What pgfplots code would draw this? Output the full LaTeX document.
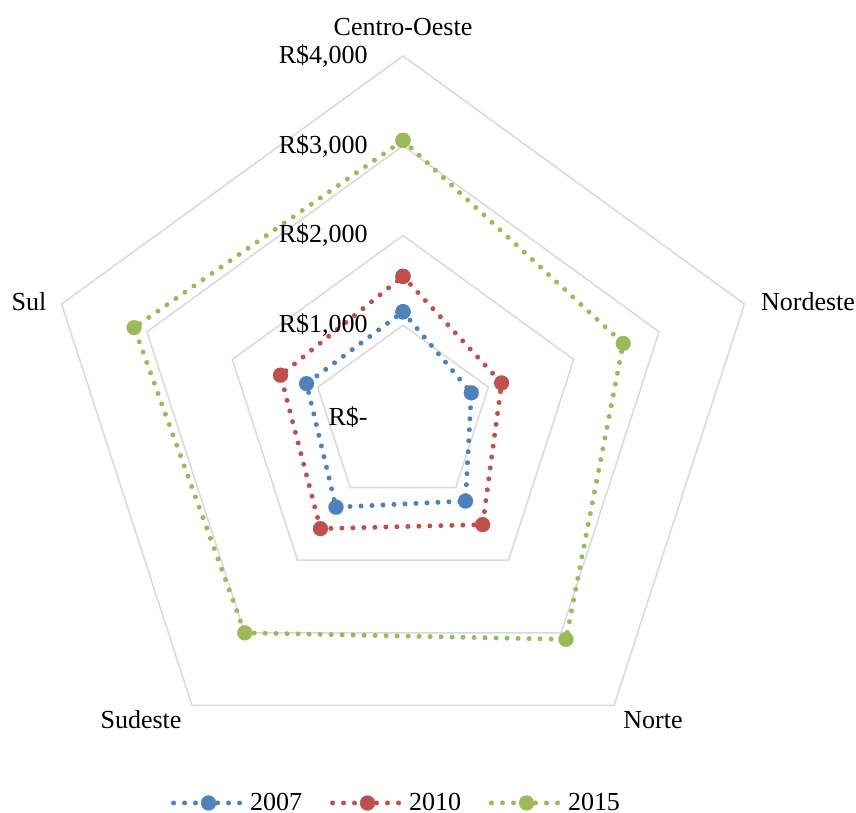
\documentclass[border=0pt]{standalone}
\usepackage{fontspec}
\setmainfont{Liberation Serif}
\usepackage{pgfplots}
\pgfplotsset{compat=1.18}
\definecolor{c07}{HTML}{4F81BD}
\definecolor{c10}{HTML}{C0504D}
\definecolor{c15}{HTML}{9BBB59}
\definecolor{gridc}{HTML}{D9D9D9}
\begin{document}
\begin{tikzpicture}
\begin{axis}[
  x=0.044875pt, y=0.044875pt,
  xmin=-4490.3, xmax=5047.4, ymin=-4434.5, ymax=4624,
  hide axis, clip=false,
  font=\fontsize{13}{16}\selectfont,
  ring/.style={gridc, line width=0.75pt, forget plot, data cs=polar, mark=none},
  series/.style={draw=#1, line width=2.5pt, dash pattern=on 0pt off 5.5pt, line cap=round, data cs=polar,
     mark=*, mark size=3.75pt, mark options={solid, line width=0.1pt, draw=#1, fill=#1}},
  legend columns=3,
  legend style={draw=none, fill=none, at={(axis description cs:0.4644,0.0123)}, anchor=center,
     font=\fontsize{13}{16}\selectfont,
     /tikz/every even column/.append style={column sep=12pt}},
  legend image code/.code={\draw[#1, mark repeat=2, mark phase=2] plot coordinates {(0pt,0pt) (17.5pt,0pt) (35pt,0pt)};},
]
\addplot[ring] coordinates {(90,1000)(18,1000)(-54,1000)(-126,1000)(162,1000)(90,1000)};
\addplot[ring] coordinates {(90,2000)(18,2000)(-54,2000)(-126,2000)(162,2000)(90,2000)};
\addplot[ring] coordinates {(90,3000)(18,3000)(-54,3000)(-126,3000)(162,3000)(90,3000)};
\addplot[ring] coordinates {(90,4000)(18,4000)(-54,4000)(-126,4000)(162,4000)(90,4000)};

\addplot[series=c07] coordinates {(90,1150)(18,800)(-54,1185)(-126,1270)(162,1130)(90,1150)};
\addlegendentry{2007}
\addplot[series=c10] coordinates {(90,1545)(18,1155)(-54,1510)(-126,1565)(162,1435)(90,1545)};
\addlegendentry{2010}
\addplot[series=c15] coordinates {(90,3060)(18,2580)(-54,3090)(-126,3000)(162,3150)(90,3060)};
\addlegendentry{2015}

\node[anchor=east, inner sep=0pt] at (axis cs:-390,4000) {R\$4,000};
\node[anchor=east, inner sep=0pt] at (axis cs:-390,3000) {R\$3,000};
\node[anchor=east, inner sep=0pt] at (axis cs:-390,2000) {R\$2,000};
\node[anchor=east, inner sep=0pt] at (axis cs:-390,1000) {R\$1,000};
\node[anchor=east, inner sep=0pt] at (axis cs:-390,-20) {R\$-};

\node at (axis cs:0,4323) {Centro-Oeste};
\node at (axis cs:4513,1259) {Nordeste};
\node at (axis cs:2786,-3398) {Norte};
\node at (axis cs:-2919,-3398) {Sudeste};
\node at (axis cs:-4167,1259) {Sul};
\end{axis}
\pgfresetboundingbox
\useasboundingbox (current axis.south west) rectangle (current axis.north east);
\end{tikzpicture}
\end{document}
